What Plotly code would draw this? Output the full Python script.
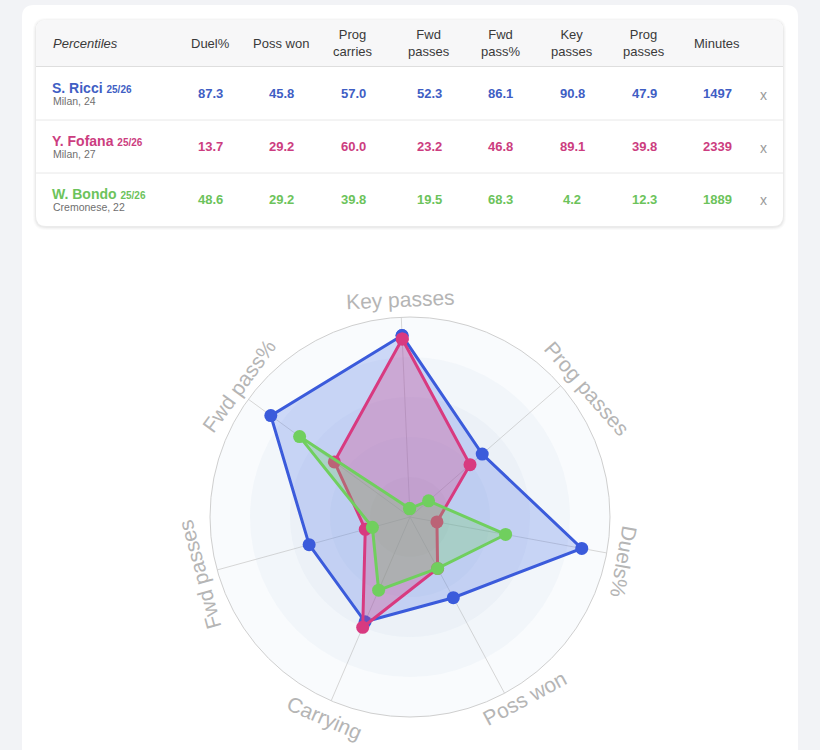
import plotly.graph_objects as go
import math

# ---------------- data ----------------
players = ["S. Ricci", "Y. Fofana", "W. Bondo"]
season = "25/26"
clubs = ["Milan, 24", "Milan, 27", "Cremonese, 22"]

duel_pct = [87.3, 13.7, 48.6]
poss_won = [45.8, 29.2, 29.2]
prog_carries = [57.0, 60.0, 39.8]
fwd_passes = [52.3, 23.2, 19.5]
fwd_pass_pct = [86.1, 46.8, 68.3]
key_passes = [90.8, 89.1, 4.2]
prog_passes = [47.9, 39.8, 12.3]
minutes = [1497, 2339, 1889]

table_headers = ["Duel%", "Poss won", "Prog<br>carries", "Fwd<br>passes", "Fwd<br>pass%",
                 "Key<br>passes", "Prog<br>passes", "Minutes"]
radar_categories = ["Key passes", "Prog passes", "Duels%", "Poss won", "Carrying",
                    "Fwd passes", "Fwd pass%"]

# ---------------- style ----------------
W, H = 820, 750
FONT = "Helvetica Neue, Helvetica, Arial, Liberation Sans, sans-serif"
text_colors = ["#3f5ec4", "#cc3d80", "#6cc35b"]
line_colors = ["#3b5bdb", "#d83a80", "#70cf5e"]
fill_colors = ["rgba(70,110,230,0.25)", "rgba(214,54,127,0.28)", "rgba(112,207,94,0.28)"]
# small angular nudges (deg) / radius tweaks for the curved labels
label_dtheta = [0, -5, -1.5, 4, 0, 0, -1.5]
label_radius = [218, 219, 218, 214, 218, 218, 215]


def px(x):
    return x / W


def py(y):
    return 1 - y / H


def rounded_rect(x0, y0, x1, y1, r, top_only=False):
    X0, X1 = px(x0), px(x1)
    Y0, Y1 = py(y0), py(y1)
    rx, ry = r / W, r / H
    if top_only:
        return (f"M {X0} {Y1} L {X0} {Y0 - ry} Q {X0} {Y0} {X0 + rx} {Y0} "
                f"L {X1 - rx} {Y0} Q {X1} {Y0} {X1} {Y0 - ry} L {X1} {Y1} Z")
    return (f"M {X0 + rx} {Y0} L {X1 - rx} {Y0} Q {X1} {Y0} {X1} {Y0 - ry} "
            f"L {X1} {Y1 + ry} Q {X1} {Y1} {X1 - rx} {Y1} L {X0 + rx} {Y1} "
            f"Q {X0} {Y1} {X0} {Y1 + ry} L {X0} {Y0 - ry} Q {X0} {Y0} {X0 + rx} {Y0} Z")


fig = go.Figure()

# ---------------- radar ----------------
n = len(radar_categories)
step = 360 / n
thetas = [i * step for i in range(n)]

# background bands (nested translucent disks)
fig.add_trace(go.Barpolar(
    r=[80, 60, 40, 20], theta=[0, 0, 0, 0], width=[360] * 4,
    marker=dict(color="rgba(160,190,215,0.075)", line=dict(width=0)),
    hoverinfo="skip", showlegend=False))

series_rows = []
for p in range(len(players)):
    vals = [key_passes[p], prog_passes[p], duel_pct[p], poss_won[p],
            prog_carries[p], fwd_passes[p], fwd_pass_pct[p]]
    series_rows.append(vals)

for p, vals in enumerate(series_rows):
    fig.add_trace(go.Scatterpolar(
        r=vals + vals[:1], theta=thetas + thetas[:1], mode="lines+markers",
        fill="toself", fillcolor=fill_colors[p],
        line=dict(color=line_colors[p], width=3),
        marker=dict(size=13, color=line_colors[p]),
        name=players[p], showlegend=False))

ROT = 92.5
CX, CY, RAD = 410, 517, 200
fig.update_layout(
    polar=dict(
        domain=dict(x=[px(CX - RAD), px(CX + RAD)], y=[py(CY + RAD), py(CY - RAD)]),
        bgcolor="#f9fbfd",
        barmode="overlay",
        radialaxis=dict(range=[0, 100], showgrid=False, showline=False,
                        showticklabels=False, ticks=""),
        angularaxis=dict(direction="clockwise", rotation=ROT, thetaunit="degrees",
                         tickvals=thetas, showticklabels=False, ticks="",
                         gridcolor="#d6d6d6", gridwidth=1,
                         showline=True, linecolor="#cfcfcf", linewidth=1),
    )
)

annotations = []
for i, cat in enumerate(radar_categories):
    th_axis = ROT - i * step
    th = th_axis + label_dtheta[i]
    LR = label_radius[i]
    x = CX + LR * math.cos(math.radians(th))
    y = CY - LR * math.sin(math.radians(th))
    ta = 90 - th_axis
    ta = (ta + 180) % 360 - 180
    if ta > 120:
        ta -= 180
    elif ta < -120:
        ta += 180
    annotations.append(dict(x=px(x), y=py(y), xref="paper", yref="paper", text=cat,
                            showarrow=False, textangle=ta, xanchor="center",
                            yanchor="middle",
                            font=dict(family=FONT, size=21, color="#b5b5b5")))

# ---------------- table ----------------
shapes = []
shapes.append(dict(type="path", path=rounded_rect(22, 5, 798, 790, 12),
                   fillcolor="white", line=dict(width=0), layer="below",
                   xref="paper", yref="paper"))
for k, a in enumerate([0.018, 0.025, 0.035]):
    g = 3 - k
    shapes.append(dict(type="path", path=rounded_rect(36 - g, 20 - g + 1, 783 + g, 226 + g + 1, 10 + g),
                       fillcolor=f"rgba(0,0,0,{a})", line=dict(width=0), layer="below",
                       xref="paper", yref="paper"))
shapes.append(dict(type="path", path=rounded_rect(36, 20, 783, 226, 10),
                   fillcolor="white", line=dict(width=0), layer="below",
                   xref="paper", yref="paper"))
shapes.append(dict(type="path", path=rounded_rect(36, 20, 783, 66, 10, top_only=True),
                   fillcolor="#f7f7f8", line=dict(width=0), layer="below",
                   xref="paper", yref="paper"))
for yy, c in [(66.5, "#dedede"), (120, "#e8e8e8"), (173, "#e8e8e8")]:
    shapes.append(dict(type="line", x0=px(36), x1=px(783), y0=py(yy), y1=py(yy),
                       line=dict(color=c, width=1), layer="below",
                       xref="paper", yref="paper"))

col_x = [210, 281, 353, 429, 500, 572, 644, 717]
annotations.append(dict(x=px(51), y=py(43), xref="paper", yref="paper",
                        text="<i>Percentiles</i>", showarrow=False, xanchor="left",
                        yanchor="middle", font=dict(family=FONT, size=13, color="#3a3a3a")))
for hx, ht in zip(col_x, table_headers):
    annotations.append(dict(x=px(hx), y=py(43), xref="paper", yref="paper", text=ht,
                            showarrow=False, xanchor="center", yanchor="middle",
                            font=dict(family=FONT, size=13, color="#3a3a3a")))

row_cy = [93.5, 146.5, 199.5]
for p in range(len(players)):
    cy = row_cy[p]
    col = text_colors[p]
    annotations.append(dict(
        x=px(50), y=py(cy - 6), xref="paper", yref="paper",
        text=f"<b>{players[p]}</b> <b><span style='font-size:10px'>{season}</span></b>",
        showarrow=False, xanchor="left", yanchor="middle",
        font=dict(family=FONT, size=14, color=col)))
    annotations.append(dict(
        x=px(51), y=py(cy + 7), xref="paper", yref="paper", text=clubs[p],
        showarrow=False, xanchor="left", yanchor="middle",
        font=dict(family=FONT, size=10.5, color="#6f6f6f")))
    row_vals = [f"{duel_pct[p]:.1f}", f"{poss_won[p]:.1f}", f"{prog_carries[p]:.1f}",
                f"{fwd_passes[p]:.1f}", f"{fwd_pass_pct[p]:.1f}", f"{key_passes[p]:.1f}",
                f"{prog_passes[p]:.1f}", f"{minutes[p]}"]
    for vx, vt in zip(col_x, row_vals):
        annotations.append(dict(x=px(vx), y=py(cy), xref="paper", yref="paper",
                                text=f"<b>{vt}</b>", showarrow=False, xanchor="center",
                                yanchor="middle", font=dict(family=FONT, size=13, color=col)))
    annotations.append(dict(x=px(763), y=py(cy + 1), xref="paper", yref="paper", text="x",
                            showarrow=False, xanchor="center", yanchor="middle",
                            font=dict(family=FONT, size=14, color="#9a9a9a")))

fig.update_layout(
    width=W, height=H, margin=dict(l=0, r=0, t=0, b=0),
    paper_bgcolor="#f2f3f6", plot_bgcolor="#f2f3f6",
    shapes=shapes, annotations=annotations, showlegend=False,
)

fig.write_html("out.html")
